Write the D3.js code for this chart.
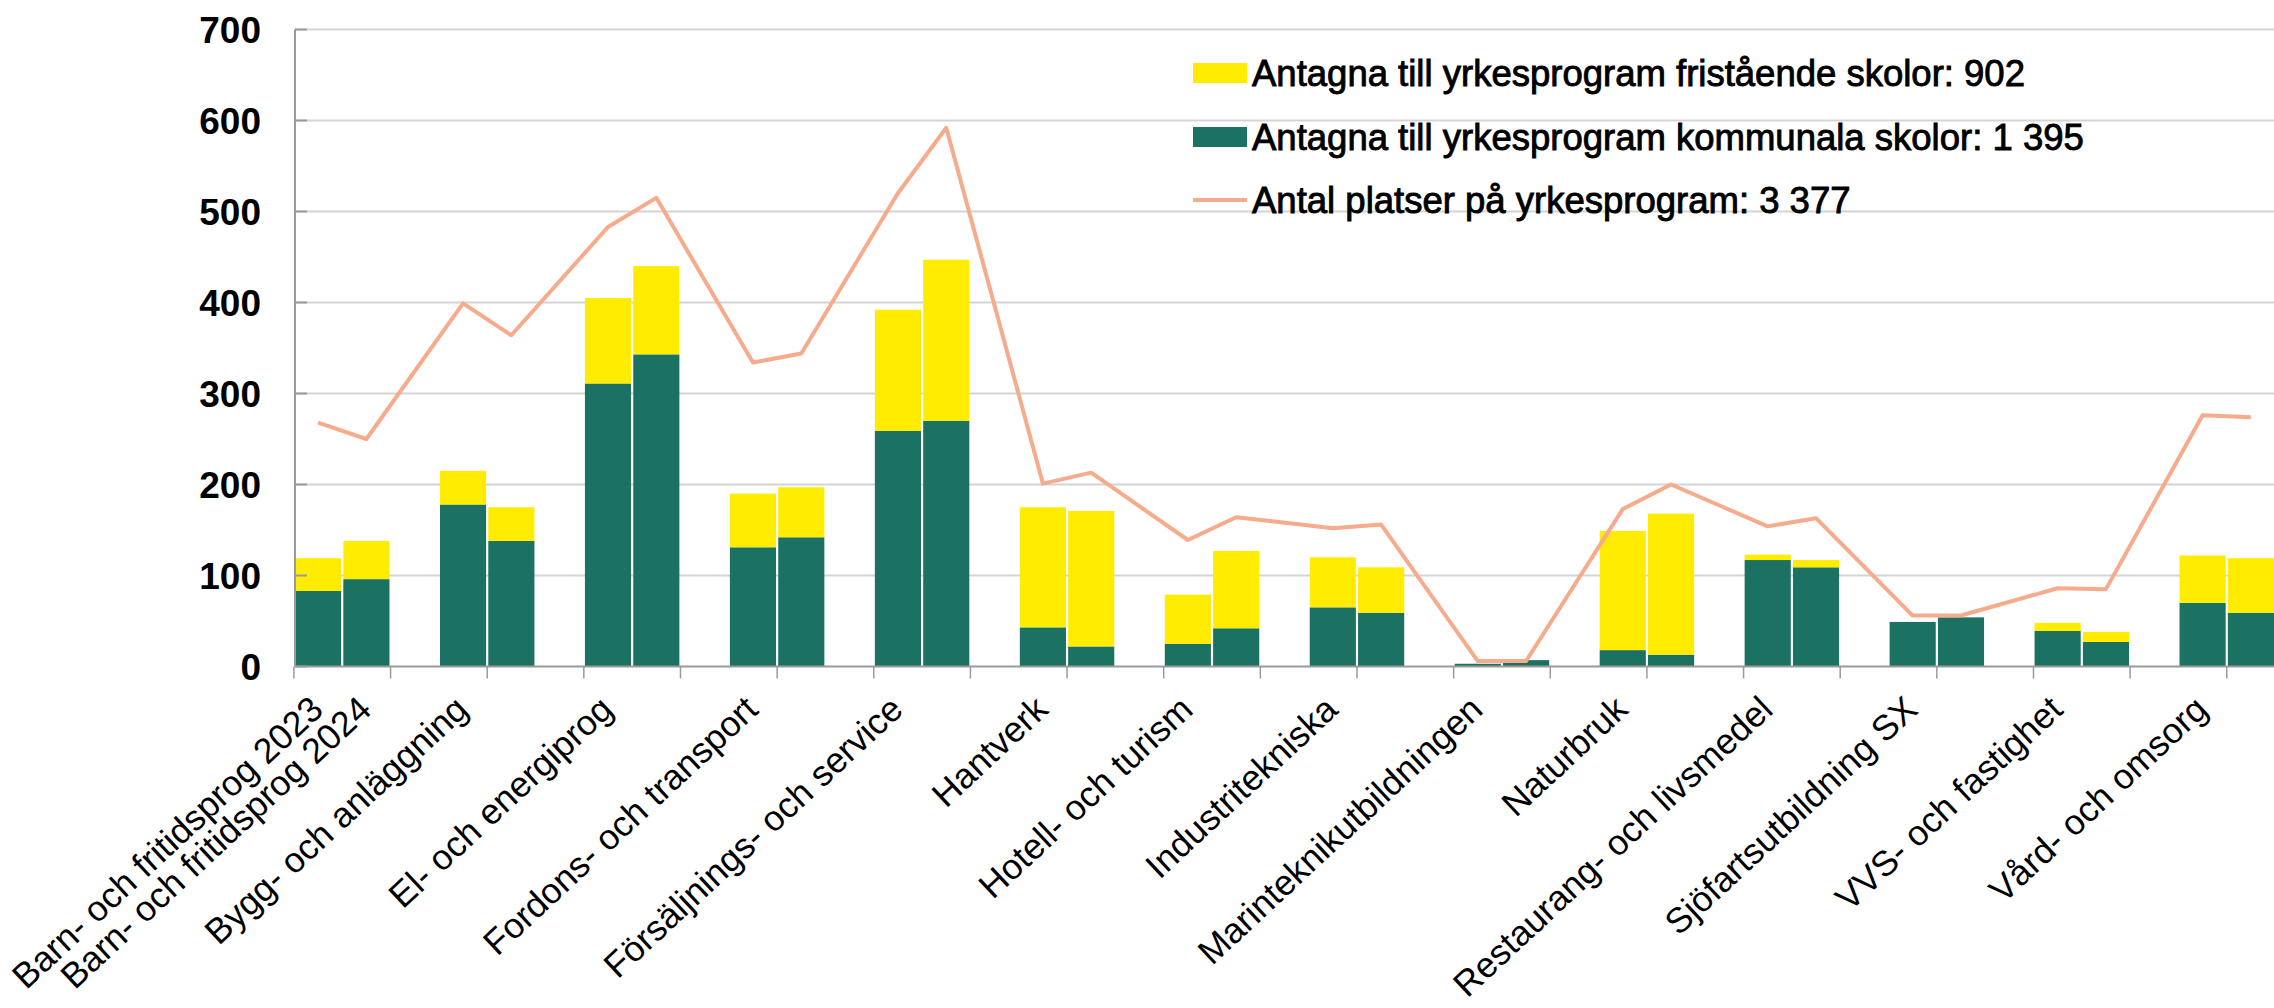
<!DOCTYPE html>
<html>
<head>
<meta charset="utf-8">
<script src="https://cdn.jsdelivr.net/npm/d3@7"></script>
<style>
  body { margin: 0; background: #ffffff; }
  svg { display: block; }
</style>
</head>
<body>
<div id="ChartBody"></div>
<script>
// Programmes (each one gets a 2023 bar, a 2024 bar and an empty slot)
var programs = ["Barn- och fritidsprog", "Bygg- och anläggning", "El- och energiprog",
  "Fordons- och transport", "Försäljnings- och service", "Hantverk", "Hotell- och turism",
  "Industritekniska", "Marinteknikutbildningen", "Naturbruk", "Restaurang- och livsmedel",
  "Sjöfartsutbildning SX", "VVS- och fastighet", "Vård- och omsorg"];
var years = ["2023", "2024"];

// Antagna kommunala skolor
var kommunala2023 = [83, 178, 311, 131, 259, 43, 25, 65, 3, 18, 117, 49, 39, 70];
var kommunala2024 = [96, 138, 343, 142, 270, 22, 42, 59, 7, 13, 109, 54, 27, 59];
// Antagna fristående skolor
var fristaende2023 = [36, 37, 94, 59, 133, 132, 54, 55, 0, 131, 6, 0, 9, 52];
var fristaende2024 = [42, 37, 97, 55, 177, 149, 85, 50, 0, 155, 8, 0, 11, 60];
// Antal platser
var platser2023 = [268, 399, 483, 334, 520, 201, 139, 152, 6, 173, 154, 56, 86, 276];
var platser2024 = [250, 364, 515, 344, 592, 213, 164, 156, 6, 200, 163, 56, 85, 274];

var yTicks = [0, 100, 200, 300, 400, 500, 600, 700];
var legendLabels = [
  "Antagna till yrkesprogram fristående skolor: 902",
  "Antagna till yrkesprogram kommunala skolor: 1 395",
  "Antal platser på yrkesprogram: 3 377"
];

var green = "#1c7262";
var yellow = "#ffec00";
var salmon = "#f6ab8c";

// Build one row per bar, in slot order
var rows = [];
programs.forEach(function(p, g) {
  years.forEach(function(yr, k) {
    rows.push({
      slot: g * 3 + k,
      program: p,
      year: yr,
      kommunala: k === 0 ? kommunala2023[g] : kommunala2024[g],
      fristaende: k === 0 ? fristaende2023[g] : fristaende2024[g],
      platser: k === 0 ? platser2023[g] : platser2024[g],
      label: g === 0 ? p + " " + yr : (k === 0 ? p : null)
    });
  });
});
var nSlots = programs.length * 3 - 1;

var width = 2274;
var height = 1008;
var plotLeft = 295, plotRight = 2274, plotTop = 29.5, plotBottom = 666.5;

var svg = d3.select("#ChartBody")
  .append("svg")
  .attr("width", width)
  .attr("height", height)
  .style("font-family", "'Liberation Sans', Arial, sans-serif");

var x = d3.scaleBand()
  .domain(d3.range(nSlots))
  .range([plotLeft, plotRight])
  .paddingInner(0.045)
  .paddingOuter(0);

var y = d3.scaleLinear()
  .domain([0, 700])
  .range([plotBottom, plotTop]);

// Gridlines
svg.append("g")
  .selectAll("line")
  .data(yTicks.slice(1))
  .enter()
  .append("line")
  .attr("x1", plotLeft)
  .attr("x2", plotRight)
  .attr("y1", function(d) { return y(d); })
  .attr("y2", function(d) { return y(d); })
  .attr("stroke", "#d4d4d4")
  .attr("stroke-width", 2);

// Stacked bars: kommunala at the bottom, fristående on top
var stack = d3.stack().keys(["kommunala", "fristaende"]);
var series = stack(rows);
var colors = { kommunala: green, fristaende: yellow };

svg.append("g")
  .selectAll("g")
  .data(series)
  .enter()
  .append("g")
  .attr("fill", function(d) { return colors[d.key]; })
  .selectAll("rect")
  .data(function(d) { return d; })
  .enter()
  .append("rect")
  .attr("x", function(d) { return x(d.data.slot); })
  .attr("width", x.bandwidth())
  .attr("y", function(d) { return y(d[1]); })
  .attr("height", function(d) { return y(d[0]) - y(d[1]); });

// Antal platser line through the bar centres
var line = d3.line()
  .x(function(d) { return x(d.slot) + x.bandwidth() / 2; })
  .y(function(d) { return y(d.platser); });

svg.append("path")
  .datum(rows)
  .attr("d", line)
  .attr("fill", "none")
  .attr("stroke", salmon)
  .attr("stroke-width", 4)
  .attr("stroke-linejoin", "round");

// Y axis
var yAxis = svg.append("g");
yAxis.append("line")
  .attr("x1", plotLeft).attr("x2", plotLeft)
  .attr("y1", plotTop).attr("y2", plotBottom)
  .attr("stroke", "#9a9a9a")
  .attr("stroke-width", 2);
yAxis.selectAll(".tick")
  .data(yTicks)
  .enter()
  .append("line")
  .attr("x1", plotLeft)
  .attr("x2", plotLeft + 12)
  .attr("y1", function(d) { return y(d); })
  .attr("y2", function(d) { return y(d); })
  .attr("stroke", "#9a9a9a")
  .attr("stroke-width", 2);
yAxis.selectAll("text")
  .data(yTicks)
  .enter()
  .append("text")
  .attr("x", 261)
  .attr("y", function(d) { return y(d); })
  .attr("dy", "0.36em")
  .attr("text-anchor", "end")
  .style("font-size", "37px")
  .style("font-weight", "bold")
  .text(function(d) { return d; });

// X axis: baseline, tick every second slot, rotated labels
var xAxis = svg.append("g");
xAxis.append("line")
  .attr("x1", plotLeft).attr("x2", plotRight)
  .attr("y1", plotBottom).attr("y2", plotBottom)
  .attr("stroke", "#9a9a9a")
  .attr("stroke-width", 2);

var half = (x.step() - x.bandwidth()) / 2;
xAxis.selectAll(".tick")
  .data(d3.range(0, nSlots, 2))
  .enter()
  .append("line")
  .attr("x1", function(i) { return x(i) - half; })
  .attr("x2", function(i) { return x(i) - half; })
  .attr("y1", plotBottom)
  .attr("y2", plotBottom + 12)
  .attr("stroke", "#9a9a9a")
  .attr("stroke-width", 1.5);

xAxis.selectAll("text")
  .data(rows.filter(function(d) { return d.label; }))
  .enter()
  .append("text")
  .attr("transform", function(d) {
    return "translate(" + (x(d.slot) + x.bandwidth() / 2 + 7) + "," + 712 + ") rotate(-43)";
  })
  .attr("text-anchor", "end")
  .style("font-size", "35.5px")
  .text(function(d) { return d.label; });

// Legend
var legend = svg.append("g").attr("transform", "translate(1193,0)");
var legendRows = [
  { label: legendLabels[0], color: yellow, type: "rect", cy: 73 },
  { label: legendLabels[1], color: green, type: "rect", cy: 137 },
  { label: legendLabels[2], color: salmon, type: "line", cy: 200 }
];
legendRows.forEach(function(r) {
  if (r.type === "rect") {
    legend.append("rect")
      .attr("x", 0).attr("y", r.cy - 10)
      .attr("width", 54).attr("height", 20)
      .attr("fill", r.color);
  } else {
    legend.append("line")
      .attr("x1", 0).attr("x2", 54)
      .attr("y1", r.cy).attr("y2", r.cy)
      .attr("stroke", r.color)
      .attr("stroke-width", 4);
  }
  legend.append("text")
    .attr("x", 59)
    .attr("y", r.cy)
    .attr("dy", "0.36em")
    .style("font-size", "36.5px")
    .attr("stroke", "#000")
    .attr("stroke-width", 0.9)
    .text(r.label);
});
</script>
</body>
</html>
